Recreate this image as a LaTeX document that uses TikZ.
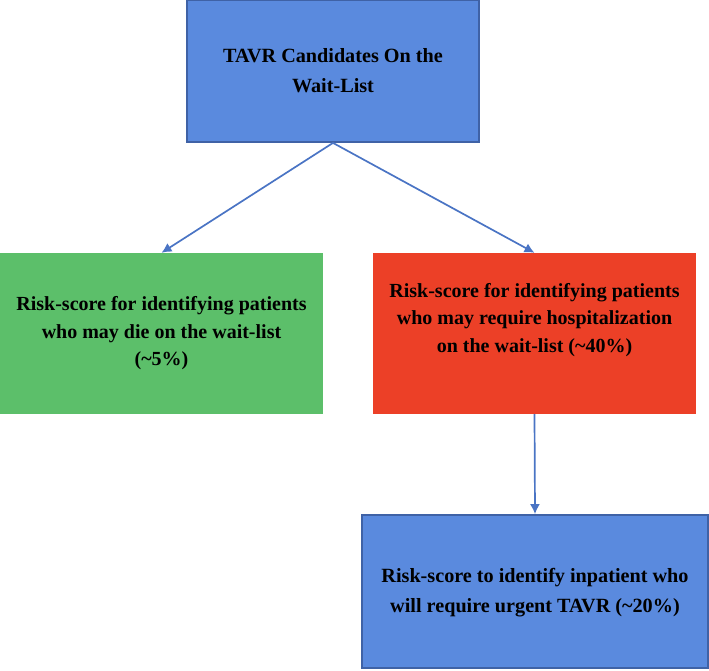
\documentclass[tikz,border=0pt]{standalone}
\usepackage{fontspec}
\setmainfont{LiberationSerif}[Extension=.ttf, UprightFont=*-Regular, BoldFont=*-Bold]
\usetikzlibrary{arrows.meta}
\definecolor{cellblue}{HTML}{5A8ADE}
\definecolor{borderblue}{HTML}{3F62A6}
\definecolor{cellgreen}{HTML}{5CBF6A}
\definecolor{cellred}{HTML}{EC4027}
\definecolor{arrowblue}{HTML}{4A74C4}
\begin{document}
\begin{tikzpicture}[
        x=1pt, y=-1pt, % координаты в пикселях
        edge/.style = {draw=arrowblue, line width=1.7pt, -{Latex[length=10pt, width=10pt]}},
        cell/.style = {rectangle, align=center, inner sep=0pt, font=\bfseries\fontsize{20}{27.5}\selectfont}, % Стиль блоков
        bluecell/.style = {cell, fill=cellblue, draw=borderblue, line width=1.8pt, font=\bfseries\fontsize{20.2}{30}\selectfont},
    ]
    \useasboundingbox (0,0) rectangle (709,670);

    \node[bluecell, minimum width=292pt, minimum height=142pt] (top) at (333,71)
        {TAVR Candidates On the\\Wait-List};
    \node[cell, fill=cellgreen, minimum width=323pt, minimum height=161pt] (die) at (161.5,333.5)
        {Risk-score for identifying patients\\who may die on the wait-list\\(\textasciitilde5\%)};
    \node[cell, fill=cellred, minimum width=323pt, minimum height=161pt, text depth=32pt] (hosp) at (534.5,333.5)
        {Risk-score for identifying patients\\who may require hospitalization\\on the wait-list (\textasciitilde40\%)};
    \node[bluecell, minimum width=346pt, minimum height=153pt, text depth=2pt] (urgent) at (535,591.5)
        {Risk-score to identify inpatient who\\will require urgent TAVR (\textasciitilde20\%)};

    \draw[edge] (top.south) -- (die.north);
    \draw[edge] (top.south) -- (hosp.north);
    \draw[edge] (hosp.south) -- (urgent.north);
\end{tikzpicture}
\end{document}
